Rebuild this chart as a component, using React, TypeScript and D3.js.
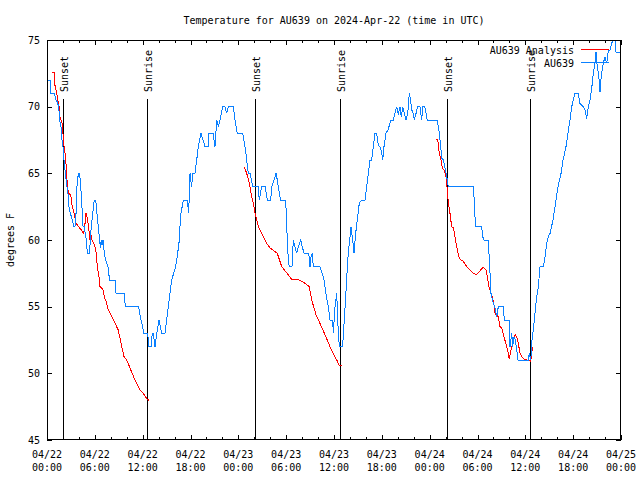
import React from "react";
import * as d3 from "d3";

const title = "Temperature for AU639 on 2024-Apr-22 (time in UTC)";
const yLabel = "degrees F";
const yTicks = [45, 50, 55, 60, 65, 70, 75];
const xMajorHours = [0, 6, 12, 18, 24, 30, 36, 42, 48, 54, 60, 66, 72];
const xDateLabels = ["04/22", "04/22", "04/22", "04/22", "04/23", "04/23", "04/23", "04/23", "04/24", "04/24", "04/24", "04/24", "04/25"];
const xTimeLabels = ["00:00", "06:00", "12:00", "18:00", "00:00", "06:00", "12:00", "18:00", "00:00", "06:00", "12:00", "18:00", "00:00"];
const sunEvents: [number, string][] = [
  [2.05, "Sunset"], [12.55, "Sunrise"], [26.1, "Sunset"], [36.7, "Sunrise"], [50.2, "Sunset"], [60.6, "Sunrise"],
];

// AU639 observations: [hours since 04/22 00:00 UTC, degrees F]
const obsHours = [
  0.0, 0.41, 0.5, 0.92, 1.13, 1.25, 1.47, 1.59, 1.76, 1.88, 2.01, 2.09, 2.17, 2.35, 2.51, 2.63, 2.76, 2.92, 3.14, 3.35,
  3.51, 3.64, 3.76, 3.93, 4.1, 4.26, 4.43, 4.52, 4.68, 4.8, 4.93, 5.06, 5.36, 5.43, 5.56, 5.73, 5.93, 6.11, 6.27, 6.43,
  6.61, 6.69, 6.81, 6.9, 7.02, 7.19, 7.36, 7.65, 7.74, 7.86, 8.57, 8.66, 9.7, 9.82, 11.5, 11.63, 11.79, 12.0, 12.13, 12.63,
  12.79, 13.05, 13.21, 13.33, 13.55, 13.76, 14.05, 14.39, 14.8, 15.01, 15.22, 15.43, 15.64, 16.14, 16.39, 16.6, 16.68, 16.81, 17.1, 17.6,
  17.77, 17.94, 18.13, 18.31, 18.56, 18.78, 18.98, 19.32, 19.57, 19.82, 20.2, 20.32, 20.82, 21.07, 21.29, 21.49, 21.7, 22.04, 22.33, 22.54,
  22.74, 23.37, 23.58, 23.87, 24.55, 24.84, 25.05, 25.25, 25.46, 25.8, 26.47, 26.63, 26.93, 27.35, 27.64, 28.06, 28.19, 28.48, 28.73, 28.89,
  29.14, 29.32, 29.85, 29.98, 30.07, 30.27, 30.39, 30.73, 30.9, 31.11, 31.32, 31.52, 31.82, 32.02, 32.24, 32.83, 32.99, 33.11, 33.28, 33.4,
  34.24, 34.58, 34.75, 35.09, 35.29, 35.5, 35.84, 35.91, 36.13, 36.34, 36.41, 36.54, 36.67, 37.09, 37.17, 37.29, 37.51, 37.72, 37.88, 38.01,
  38.13, 38.35, 38.51, 38.72, 38.92, 39.17, 39.47, 39.89, 40.1, 40.3, 40.52, 40.73, 40.93, 41.14, 41.35, 41.56, 41.77, 41.98, 42.11, 42.27,
  42.52, 42.81, 43.11, 43.44, 43.65, 43.87, 44.07, 44.28, 44.44, 44.62, 44.78, 45.03, 45.25, 45.45, 45.62, 45.75, 45.95, 46.08, 46.29, 46.5,
  46.79, 47.0, 47.13, 47.38, 47.54, 47.7, 48.96, 49.08, 49.21, 49.38, 49.55, 49.71, 49.92, 50.14, 50.34, 53.47, 53.56, 53.69, 53.81, 54.53,
  54.65, 54.81, 55.36, 55.48, 55.57, 55.69, 55.86, 56.16, 56.41, 56.61, 57.24, 57.36, 57.99, 58.08, 58.29, 58.42, 58.58, 58.75, 58.92, 59.08,
  60.38, 60.5, 60.68, 60.84, 61.0, 61.21, 61.43, 61.63, 61.84, 62.26, 62.47, 62.68, 62.88, 63.1, 63.47, 63.85, 64.1, 64.48, 64.73, 65.1,
  65.35, 65.6, 65.82, 66.02, 66.23, 66.64, 66.85, 67.27, 67.49, 67.7, 67.9, 68.11, 68.33, 68.53, 68.74, 68.87, 69.03, 69.2, 69.37, 69.53,
  69.78, 69.99, 70.21, 70.41, 70.62, 70.83, 71.03, 71.25, 71.37, 72.0,
];
const obsTemps = [
  72, 72, 71, 71, 70.5, 70.4, 70, 69, 68.5, 67.5, 67, 66.25, 65.75, 64.75, 64, 63.5, 62.5, 62, 61.6, 61,
  61, 62, 64, 65, 65, 63.75, 62, 61, 61, 60.5, 60, 59, 59, 60.25, 61, 62, 63, 63, 62, 61,
  60, 59.4, 60, 59.6, 60, 59, 58.5, 58, 57.5, 57, 57, 56, 56, 55, 55, 54.5, 54, 53.5, 53, 53,
  52, 52, 53, 53, 52, 53, 54, 53, 53, 54, 55, 56, 57, 58, 59, 60, 61, 62, 63, 63,
  62, 65, 64, 65, 65, 66, 67, 68, 67.5, 67, 67, 68, 68, 67, 69, 68.5, 69, 70, 70, 69.5,
  70, 70, 69, 68, 68, 67, 66, 65, 65, 64, 64, 63, 64, 64, 63, 63, 64, 64.5, 65, 64.5,
  63.5, 63, 63, 62.4, 61, 58.5, 58, 58, 60, 59.5, 59, 59.5, 60, 59.5, 59, 59, 58, 58.7, 59, 58,
  58, 57.4, 57, 55.6, 55, 54, 54, 53, 55, 56, 55, 53, 52, 52, 53, 54, 56.25, 58.5, 59.5, 60.25,
  61, 60, 59, 60.5, 61.5, 62.75, 63, 63, 64, 65, 66, 66, 67, 68, 68, 67.1, 67, 66.6, 66, 67,
  68, 68.3, 69, 69, 69.5, 70, 69.4, 70, 69.25, 70, 69.6, 69, 69.5, 71, 70.4, 69.75, 69.5, 69, 69.5, 70,
  70, 69, 70, 70, 69.5, 69, 69, 68.5, 68, 67, 66.1, 66, 65.4, 64.75, 64, 64, 63.25, 61.75, 61, 61,
  60.25, 60, 60, 58.5, 57.5, 56, 55.5, 55, 54.25, 55, 55, 54, 54, 52, 53, 52, 52.75, 52.5, 51.75, 51,
  51, 51.5, 51, 52.5, 53.25, 54.5, 55.75, 56.5, 58, 58, 58.75, 59.75, 60.25, 60.5, 61.5, 63, 64, 65, 66, 67,
  68, 69, 70, 70.5, 71, 71, 70.25, 70, 69.75, 69.1, 70, 70.5, 71.4, 72.5, 73.25, 74.1, 72.9, 72.4, 71.1, 72.4,
  73.25, 73.75, 73.25, 74.25, 74.25, 74.75, 75, 75, 74.1, 74,
];

// AU639 Analysis, three night segments
const anaHours1 = [0.59, 0.88, 1.0, 1.22, 1.42, 1.54, 1.63, 1.84, 1.97, 2.04, 2.26, 2.38, 2.47, 2.67, 2.97, 3.1, 3.39, 3.64, 3.98, 4.3, 4.6, 4.73, 4.89, 5.02, 5.23, 5.36, 5.48, 5.64, 5.86, 6.02, 6.18, 6.31, 6.52, 6.65, 7.06, 7.19, 7.49, 7.69, 7.94, 8.53, 8.94, 9.37, 9.66, 10.0, 10.62, 11.04, 11.67, 12.08, 12.51, 12.83];
const anaTemps1 = [72.6, 72.6, 71.6, 71, 70.3, 70, 69.2, 68.9, 68.5, 67.5, 66.5, 65.75, 64.75, 63.5, 63.4, 62.75, 62, 61.25, 61, 60.75, 60.5, 61, 62, 61.75, 61, 60, 60.5, 60, 59.75, 59.5, 59, 58, 57.25, 56.5, 56.25, 55.75, 55.25, 54.75, 54.5, 53.75, 53.25, 52, 51.25, 51, 50.1, 49.5, 48.75, 48.5, 48.1, 47.95];
const anaHours2 = [24.75, 25.05, 25.38, 25.68, 25.88, 26.09, 26.51, 26.84, 27.56, 27.97, 28.89, 29.44, 29.98, 30.69, 31.65, 32.36, 32.9, 33.2, 33.74, 34.24, 34.87, 35.5, 35.91, 36.34, 36.67, 36.97];
const anaTemps2 = [65.5, 65, 64.25, 63.25, 62.75, 62, 61, 60.6, 59.75, 59.4, 59, 58, 57.6, 57.05, 57, 56.75, 56.5, 55.5, 54.4, 53.75, 52.9, 52, 51.5, 51, 50.6, 50.57];
const anaHours3 = [48.8, 49.01, 49.21, 49.42, 49.59, 49.8, 50.05, 50.21, 50.34, 50.55, 50.76, 50.97, 51.18, 51.39, 51.72, 52.22, 52.65, 53.27, 53.81, 54.06, 54.4, 54.73, 55.07, 55.23, 55.44, 55.66, 55.86, 56.07, 56.2, 56.61, 56.82, 57.04, 57.33, 57.54, 57.79, 57.99, 58.2, 58.42, 58.71, 58.92, 59.12, 59.33, 59.55, 59.75, 60.25, 60.5, 60.68, 60.8, 60.93];
const anaTemps3 = [67.55, 67.5, 66.5, 66, 65.4, 65.25, 64.75, 63.75, 62.75, 62, 61, 60.9, 60.25, 59.5, 58.6, 58.4, 58, 57.6, 57.4, 57.5, 57.75, 57.95, 57.75, 57.25, 56.5, 56.1, 55.75, 55.1, 54.5, 54.25, 53.5, 53.4, 52.75, 52.25, 51.75, 51.05, 51.75, 52.25, 52.9, 52.75, 52.25, 51.5, 51.25, 51.1, 51, 51, 50.9, 51.5, 52];

const seriesNames = ["AU639 Analysis", "AU639"];

const W = 640, H = 480;
const L = 47, R = 621, T = 40, B = 440;
const RED = "#ff0000";
const BLUE = "#0a80ff";
const FONT = "'DejaVu Sans Mono', monospace";

export default function App() {
  const x = d3.scaleLinear().domain([0, 72]).range([L, R]);
  const y = d3.scaleLinear().domain([45, 75]).range([B, T]);
  const line = d3.line<[number, number]>().x(d => x(d[0])).y(d => y(d[1]));
  const zip = (a: number[], b: number[]) => a.map((v, i) => [v, b[i]] as [number, number]);
  const obs = zip(obsHours, obsTemps);
  const ana = [zip(anaHours1, anaTemps1), zip(anaHours2, anaTemps2), zip(anaHours3, anaTemps3)];
  const minor = d3.range(0, 73, 2);

  return (
    <svg width={W} height={H} style={{ position: "absolute", left: 0, top: 0, background: "#fff" }} fontFamily={FONT} fontSize={10}>
      <rect x={0} y={0} width={W} height={H} fill="#fff" />
      <defs>
        <clipPath id="plot"><rect x={L} y={T} width={R - L} height={B - T} /></clipPath>
      </defs>
      <text x={(L + R) / 2} y={23.5} textAnchor="middle">{title}</text>

      {/* y ticks */}
      {yTicks.map(v => (
        <g key={"y" + v}>
          <line x1={L} x2={L + 5} y1={Math.round(y(v)) + 0.5} y2={Math.round(y(v)) + 0.5} stroke="#000" shapeRendering="crispEdges" />
          <line x1={R - 5} x2={R} y1={Math.round(y(v)) + 0.5} y2={Math.round(y(v)) + 0.5} stroke="#000" shapeRendering="crispEdges" />
          <text x={40} y={y(v) + 3.5} textAnchor="end">{v}</text>
        </g>
      ))}
      {/* x ticks */}
      {minor.map(h => {
        const len = h % 6 === 0 ? 5 : 3;
        const px = Math.round(x(h)) + 0.5;
        return (
          <g key={"x" + h}>
            <line x1={px} x2={px} y1={B} y2={B - len} stroke="#000" shapeRendering="crispEdges" />
            <line x1={px} x2={px} y1={T} y2={T + len} stroke="#000" shapeRendering="crispEdges" />
          </g>
        );
      })}
      {xMajorHours.map((h, i) => (
        <g key={"xl" + h}>
          <text x={x(h)} y={458} textAnchor="middle">{xDateLabels[i]}</text>
          <text x={x(h)} y={471} textAnchor="middle">{xTimeLabels[i]}</text>
        </g>
      ))}
      <text transform={`translate(14,240) rotate(-90)`} textAnchor="middle">{yLabel}</text>

      {/* sun events */}
      {sunEvents.map(([h, lab], i) => {
        const px = Math.round(x(h)) + 0.5;
        return (
          <g key={"s" + i}>
            <line x1={px} x2={px} y1={99} y2={B} stroke="#000" shapeRendering="crispEdges" />
            <text transform={`translate(${px + 4.5},92) rotate(-90)`} textAnchor="start">{lab}</text>
          </g>
        );
      })}

      <g clipPath="url(#plot)">
        {ana.map((seg, i) => (
          <path key={"a" + i} d={line(seg) || ""} fill="none" stroke={RED} strokeWidth={1} shapeRendering="crispEdges" />
        ))}
        <path d={line(obs) || ""} fill="none" stroke={BLUE} strokeWidth={1} shapeRendering="crispEdges" />
      </g>

      {/* legend */}
      <text x={574} y={53.5} textAnchor="end">{seriesNames[0]}</text>
      <line x1={581} x2={609} y1={49.5} y2={49.5} stroke={RED} shapeRendering="crispEdges" />
      <text x={574} y={66.5} textAnchor="end">{seriesNames[1]}</text>
      <line x1={581} x2={609} y1={62.5} y2={62.5} stroke={BLUE} shapeRendering="crispEdges" />

      <rect x={L + 0.5} y={T + 0.5} width={R - L - 1} height={B - T - 1} fill="none" stroke="#000" shapeRendering="crispEdges" />
    </svg>
  );
}
